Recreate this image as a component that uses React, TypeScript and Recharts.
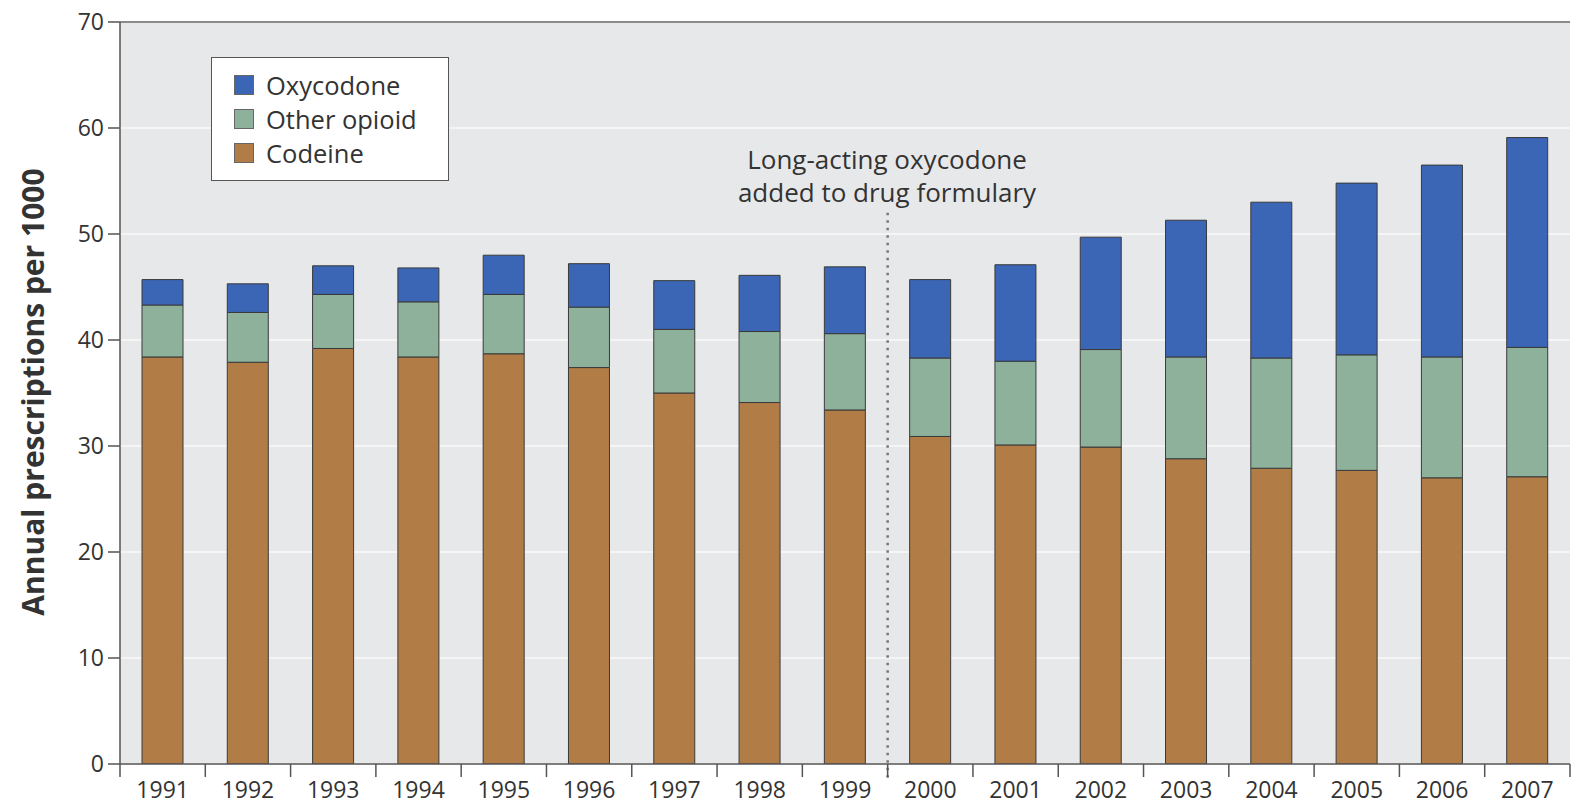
import { Bar, BarChart, CartesianGrid, ReferenceLine, XAxis, YAxis } from "recharts";

const YEARS = [
  "1991", "1992", "1993", "1994", "1995", "1996", "1997", "1998", "1999",
  "2000", "2001", "2002", "2003", "2004", "2005", "2006", "2007",
];
const CODEINE = [38.4, 37.9, 39.2, 38.4, 38.7, 37.4, 35.0, 34.1, 33.4, 30.9, 30.1, 29.9, 28.8, 27.9, 27.7, 27.0, 27.1];
const OTHER_OPIOID = [4.9, 4.7, 5.1, 5.2, 5.6, 5.7, 6.0, 6.7, 7.2, 7.4, 7.9, 9.2, 9.6, 10.4, 10.9, 11.4, 12.2];
const OXYCODONE = [2.4, 2.7, 2.7, 3.2, 3.7, 4.1, 4.6, 5.3, 6.3, 7.4, 9.1, 10.6, 12.9, 14.7, 16.2, 18.1, 19.8];
const Y_TICKS = [0, 10, 20, 30, 40, 50, 60, 70];
const MARKER_YEAR = "2000"; // dotted line sits at the start of this band
const MARKER_TOP = 52.2;

const COLORS = {
  oxycodone: "#3b65b5",
  other: "#8db19a",
  codeine: "#b27c46",
};
const LEGEND = [
  { name: "Oxycodone", color: COLORS.oxycodone },
  { name: "Other opioid", color: COLORS.other },
  { name: "Codeine", color: COLORS.codeine },
];

const data = YEARS.map((year, i) => ({
  year,
  codeine: CODEINE[i],
  other: OTHER_OPIOID[i],
  oxycodone: OXYCODONE[i],
}));

const AXIS_COLOR = "#555";
const TICK = { fontSize: 23, fill: "#333" } as const;

// year label at band centre, tick marks at band edges
function YearTick(props: any) {
  const { x, y, payload, index } = props;
  const half = payload?.offset ?? 42.6;
  const last = index === YEARS.length - 1;
  return (
    <g>
      <line x1={x - half} x2={x - half} y1={y} y2={y + 13} stroke={AXIS_COLOR} strokeWidth={1.5} />
      {last && <line x1={x + half} x2={x + half} y1={y} y2={y + 13} stroke={AXIS_COLOR} strokeWidth={1.5} />}
      <text x={x} y={y + 34} textAnchor="middle" fontSize={23} fill="#333">
        {payload.value}
      </text>
    </g>
  );
}

export default function App() {
  return (
    <div
      style={{
        position: "absolute",
        top: 0,
        left: 0,
        width: 1590,
        height: 809,
        background: "#fff",
        fontFamily: "'Open Sans', sans-serif",
        overflow: "hidden",
      }}
    >
      <BarChart width={1590} height={809} data={data} margin={{ top: 22, right: 20, bottom: 0, left: 0 }}>
        <CartesianGrid vertical={false} stroke="#fafafa" strokeWidth={1.5} fill="#e7e8ea" fillOpacity={1} />
        <XAxis
          dataKey="year"
          height={45}
          tickSize={0}
          tickMargin={0}
          tickLine={false}
          axisLine={{ stroke: AXIS_COLOR, strokeWidth: 1.5 }}
          tick={<YearTick />}
          interval={0}
        />
        <YAxis
          domain={[0, 70]}
          ticks={Y_TICKS}
          width={120}
          tickSize={12}
          tickMargin={4}
          tickLine={{ stroke: AXIS_COLOR, strokeWidth: 1.5 }}
          axisLine={{ stroke: AXIS_COLOR, strokeWidth: 1.5 }}
          tick={TICK}
          allowDataOverflow
        />
        <ReferenceLine y={70} stroke="#666" strokeWidth={1.5} ifOverflow="visible" />
        <Bar dataKey="codeine" stackId="a" fill={COLORS.codeine} stroke="#3a3a3a" strokeWidth={1} barSize={41} isAnimationActive={false} />
        <Bar dataKey="other" stackId="a" fill={COLORS.other} stroke="#3a3a3a" strokeWidth={1} barSize={41} isAnimationActive={false} />
        <Bar dataKey="oxycodone" stackId="a" fill={COLORS.oxycodone} stroke="#3a3a3a" strokeWidth={1} barSize={41} isAnimationActive={false} />
        <ReferenceLine
          segment={[{ x: MARKER_YEAR, y: -1.3 }, { x: MARKER_YEAR, y: MARKER_TOP }]}
          position="start"
          ifOverflow="visible"
          stroke="#777"
          strokeWidth={2.5}
          strokeDasharray="2.5 5"
        />
      </BarChart>

      {/* y axis title */}
      <div
        style={{
          position: "absolute",
          left: 33 - 280,
          top: 392 - 18,
          width: 560,
          height: 36,
          lineHeight: "36px",
          textAlign: "center",
          transform: "rotate(-90deg)",
          fontWeight: 700,
          fontSize: 30,
          color: "#333",
        }}
      >
        Annual prescriptions per 1000
      </div>

      {/* legend */}
      <div
        style={{
          position: "absolute",
          left: 211,
          top: 57,
          width: 238,
          height: 124,
          border: "1.5px solid #555",
          background: "#fff",
          boxSizing: "border-box",
          paddingTop: 10,
          paddingLeft: 22,
        }}
      >
        {LEGEND.map((l) => (
          <div key={l.name} style={{ display: "flex", alignItems: "center", height: 34 }}>
            <span
              style={{
                display: "inline-block",
                width: 20,
                height: 20,
                background: l.color,
                border: "1px solid #666",
                boxSizing: "border-box",
                marginRight: 12,
              }}
            />
            <span style={{ fontSize: 25.5, color: "#333" }}>{l.name}</span>
          </div>
        ))}
      </div>

      {/* annotation */}
      <div
        style={{
          position: "absolute",
          left: 887 - 220,
          top: 143,
          width: 440,
          textAlign: "center",
          fontSize: 26,
          lineHeight: "33px",
          color: "#333",
        }}
      >
        Long-acting oxycodone
        <br />
        added to drug formulary
      </div>
    </div>
  );
}
